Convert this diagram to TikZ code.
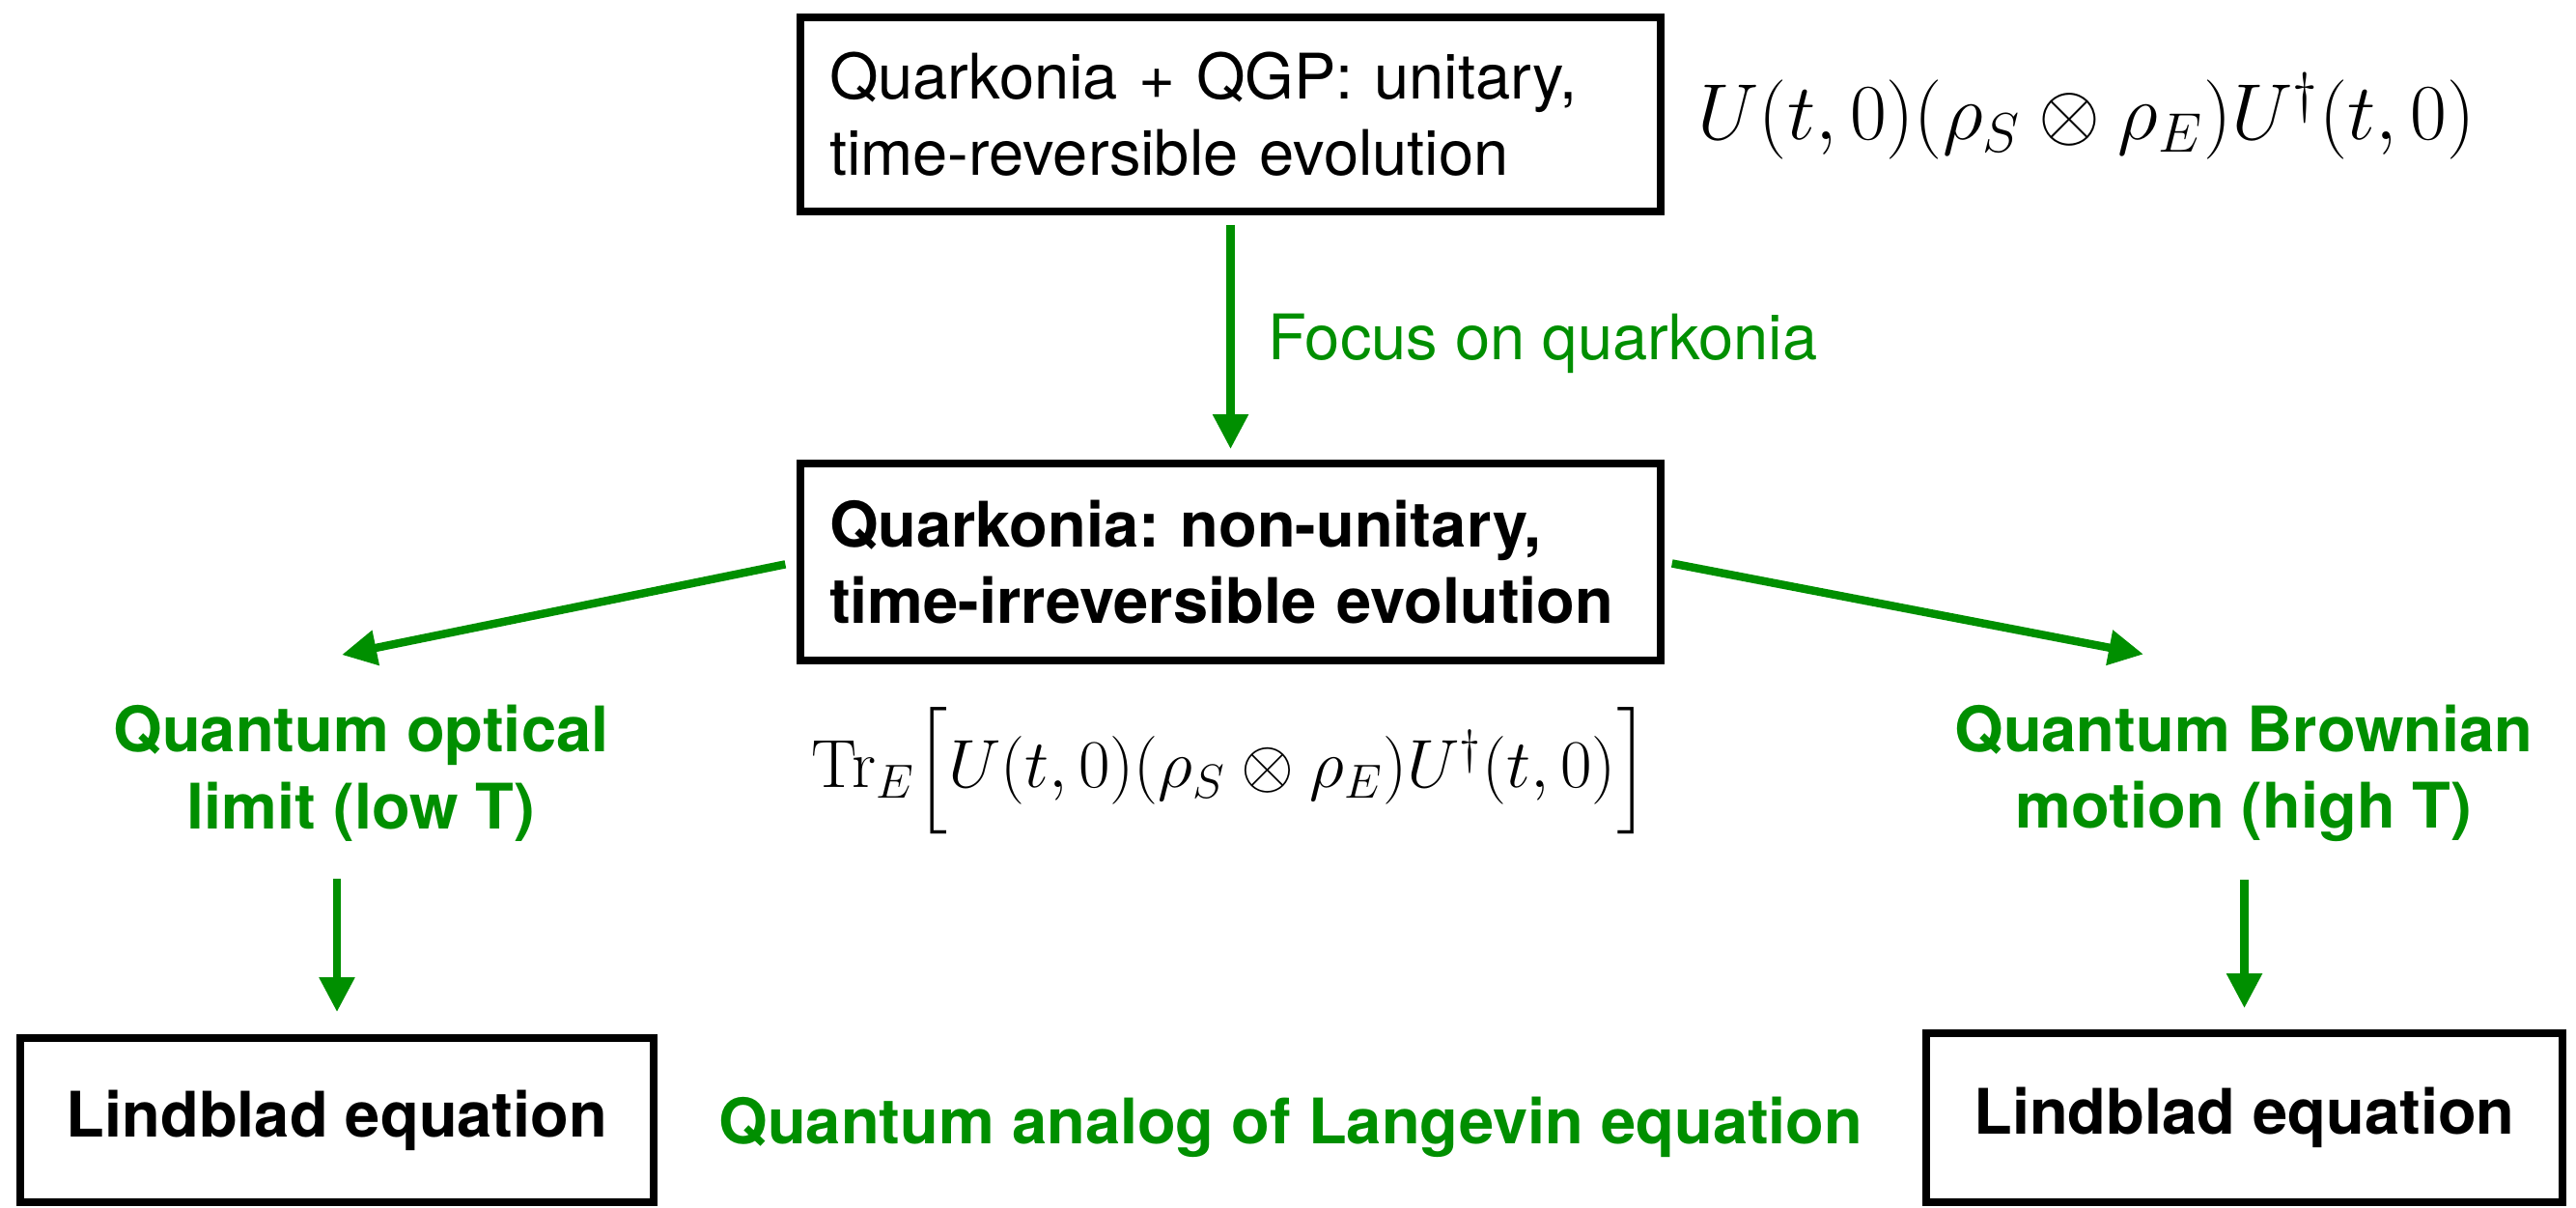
\RequirePackage{fix-cm}
\documentclass[tikz,border=0pt]{standalone}
\usepackage{amsmath}
\usepackage[no-math]{fontspec}
\setsansfont{TeX Gyre Heros}
\usepackage{xcolor}
\usetikzlibrary{arrows.meta, positioning, calc}
\definecolor{keygreen}{RGB}{0,143,0}
\frenchspacing
\newcommand{\mainsize}{\fontsize{18.5}{22.6}\selectfont}
\newcommand{\bigmath}{\fontsize{23.4}{28}\selectfont}
\newcommand{\midmath}{\fontsize{20.1}{24.1}\selectfont}

\begin{document}
\begin{tikzpicture}[
    font=\sffamily\mainsize,
    >={Triangle[length=0.36cm, width=0.35cm]},
    block/.style={rectangle, draw, line width=2.2pt, minimum width=#1, inner xsep=0.3cm},
    flow/.style={->, draw=keygreen, line width=2.4pt},
    note/.style={text=keygreen, font=\sffamily\bfseries\mainsize, align=center},
]
    \useasboundingbox (0,0) rectangle (26.68,12.51);

    % Quarkonia + QGP
    \node[block=8.91cm, minimum height=2.01cm, text width=8.31cm, align=left] (full) at (12.745,11.325) {Quarkonia + QGP: unitary,\\time-reversible evolution};
    \node[anchor=base west, inner sep=0] (unitary) at ($(full.east)+(0.34,-0.265)$) {\bigmath$U(t,0)(\rho_S\otimes\rho_E)U^\dagger(t,0)$};

    % Quarkonia only
    \node[block=8.91cm, minimum height=2.04cm, text width=8.31cm, align=left, font=\sffamily\bfseries\mainsize] (mid) at (12.745,6.69) {Quarkonia: non-unitary,\\time-irreversible evolution};
    \node[below=0.44cm of mid, inner sep=0] (trace) {\midmath$\mathrm{Tr}_E\Big[U(t,0)(\rho_S\otimes\rho_E)U^\dagger(t,0)\Big]$};

    % Two limits
    \node[note] (optical) at (3.74,4.50) {Quantum optical\\limit (low T)};
    \node[note] (brownian) at (23.24,4.50) {Quantum Brownian\\motion (high T)};

    % Lindblad boxes
    \node[block=6.56cm, minimum height=1.70cm, font=\sffamily\bfseries\mainsize] (lindL) at (3.49,0.91) {Lindblad equation};
    \node[block=6.59cm, minimum height=1.75cm, font=\sffamily\bfseries\mainsize] (lindR) at (23.245,0.935) {Lindblad equation};
    \node[note, anchor=base] (langevin) at (13.37,0.66) {Quantum analog of Langevin equation};

    % Arrows
    \draw[flow, shorten <=0.1cm, shorten >=0.11cm] (full) -- node[right, xshift=0.23cm, yshift=-0.06cm, text=keygreen] {Focus on quarkonia} (mid);
    \draw[flow, shorten <=0.12cm] (mid.west) -- ([shift={(-0.2,0.4)}]optical.north);
    \draw[flow, shorten <=0.08cm] (mid.east) -- ([shift={(-1.04,0.4)}]brownian.north);
    \draw[flow, shorten <=0.265cm, shorten >=0.23cm] (lindL.north |- optical.south) -- (lindL.north);
    \draw[flow, shorten <=0.265cm, shorten >=0.22cm] (lindR.north |- brownian.south) -- (lindR.north);

\end{tikzpicture}
\end{document}
